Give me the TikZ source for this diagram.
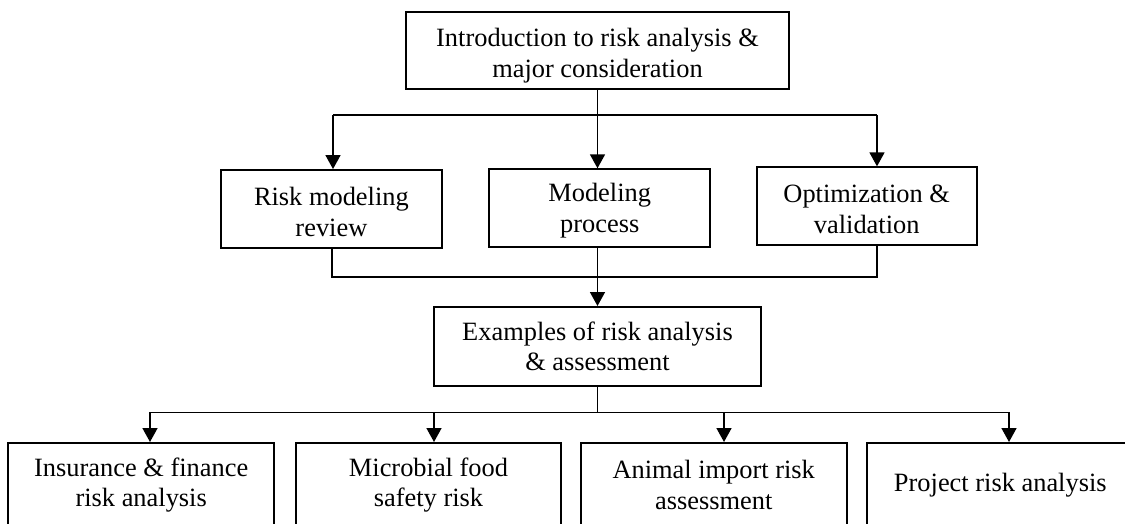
\documentclass[tikz,border=0pt]{standalone}
\usepackage{fontspec}
\setmainfont{Liberation Serif}
\usetikzlibrary{arrows.meta}
\newcommand{\mystrut}[1]{\rule{0pt}{#1}}
\begin{document}
\begin{tikzpicture}[x=0.5pt,y=-0.5pt,
  box/.style={draw, line width=1pt, inner sep=0pt, align=center,
    font=\fontsize{13.2}{15.3}\selectfont},
  conn/.style={line width=0.8pt},
  arr/.style={conn, -{Triangle[length=7pt,width=7.5pt]}}]
\useasboundingbox (0,0) rectangle (1125,524);
\clip (0,0) rectangle (1125,524);
% top
\node[box, minimum width=191.8pt, minimum height=38.35pt] (top) at (597.5,50.7)
  {\mystrut{14pt}Introduction to risk analysis \&\\major consideration};
% middle row
\node[box, minimum width=110.4pt, minimum height=38.85pt] (m1) at (331.4,208.9)
  {\mystrut{12pt}Risk modeling\\review};
\node[box, minimum width=110.4pt, minimum height=38.7pt] (m2) at (599.7,208)
  {\mystrut{12pt}Modeling\\process};
\node[box, minimum width=110pt, minimum height=38.85pt] (m3) at (866.7,206.2)
  {\mystrut{12pt}Optimization \&\\validation};
% examples
\node[box, minimum width=163.5pt, minimum height=39.5pt] (ex) at (597.5,346.5)
  {Examples of risk analysis\\\& assessment};
% bottom row
\node[box, minimum width=132.85pt, minimum height=42pt] (b1) at (141.2,485)
  {Insurance \& finance\\risk analysis};
\node[box, minimum width=132.5pt, minimum height=42pt] (b2) at (428.5,485)
  {Microbial food\\safety risk};
\node[box, minimum width=133pt, minimum height=42pt] (b3) at (713.7,485)
  {Animal import risk\\assessment};
\node[box, minimum width=133pt, minimum height=42pt] (b4) at (1000.3,485)
  {Project risk analysis};
% junction coordinates
\coordinate (hL) at (333,115);
\coordinate (hR) at (877,115);
\coordinate (bL) at (332,276.7);
\coordinate (bR) at (877,276.7);
\coordinate (c1) at (150,412.3);
\coordinate (c2) at (434,412.3);
\coordinate (c3) at (724,412.3);
\coordinate (c4) at (1009,412.3);
% top connectors
\draw[arr] (top.south) -- (top.south |- m2.north);
\draw[conn] (hL) -- (hR);
\draw[arr] (hL) -- (hL |- m1.north);
\draw[arr] (hR) -- (hR |- m3.north);
% middle connectors
\draw[conn] (bL |- m1.south) -- (bL) -- (bR) -- (bR |- m3.south);
\draw[arr] (ex.north |- m2.south) -- (ex.north);
% bottom connectors
\draw[conn] (ex.south) -- (ex.south |- c1);
\draw[conn] (c1) -- (c4);
\draw[arr] (c1) -- (c1 |- b1.north);
\draw[arr] (c2) -- (c2 |- b2.north);
\draw[arr] (c3) -- (c3 |- b3.north);
\draw[arr] (c4) -- (c4 |- b4.north);
\end{tikzpicture}
\end{document}
